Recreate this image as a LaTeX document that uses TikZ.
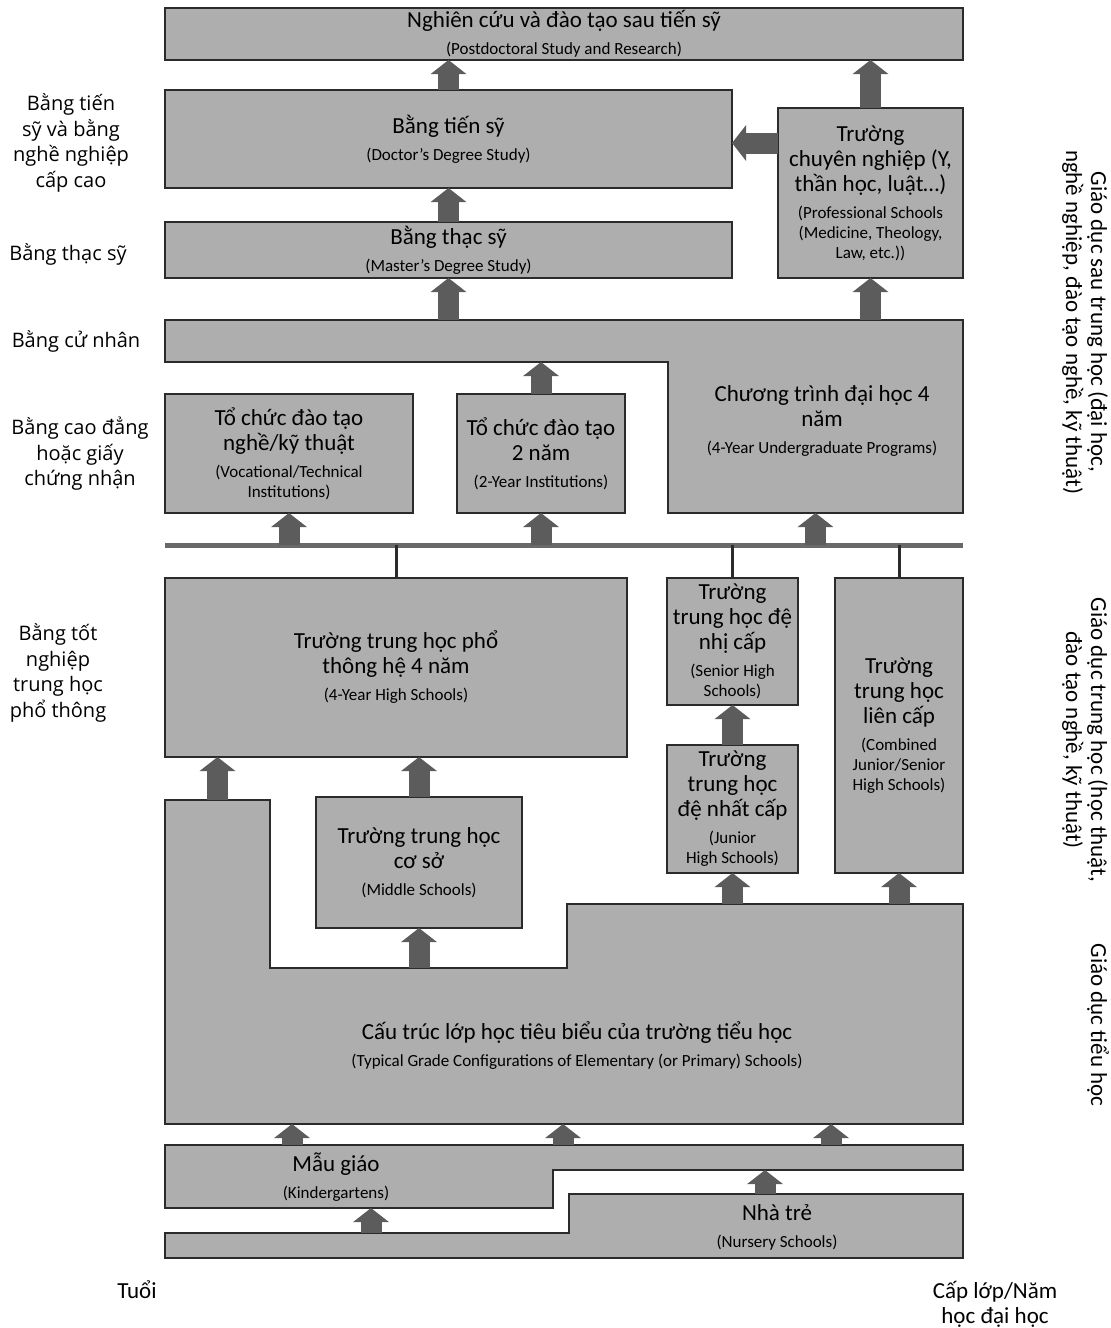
\documentclass[tikz,border=0pt]{standalone}
\usepackage{fontspec}
\setmainfont{Carlito}
\newfontfamily\nhanfont{Open Sans}
\usetikzlibrary{arrows.meta,calc}
\definecolor{nenxam}{RGB}{174,174,174}
\definecolor{vienxam}{RGB}{43,43,43}
\definecolor{muixam}{RGB}{92,92,92}
\definecolor{ranhxam}{RGB}{105,105,105}
\newcommand{\anh}[1]{\par\vspace{7pt}{\fontsize{17}{20}\selectfont #1\par}}
\tikzset{
  khoi/.style={
    draw=vienxam,
    fill=nenxam,
    line width=2.2pt,
    line join=miter
  },
  hop/.style={
    khoi,
    rectangle,
    align=flush center,
    inner sep=2pt,
    outer sep=0pt,
    font=\fontsize{23}{25}\selectfont
  },
  chu/.style={
    align=flush center,
    inner sep=0pt,
    font=\fontsize{23}{25}\selectfont
  },
  nhan/.style={
    align=center,
    inner sep=0pt,
    font=\nhanfont\fontsize{20}{25.5}\selectfont
  },
  ben/.style={
    align=center,
    inner sep=0pt,
    rotate=-90,
    font=\fontsize{23}{25}\selectfont
  },
  muiten/.style={
    draw=muixam,
    line width=21pt,
    -{Triangle[length=14pt,width=35pt]}
  },
  noi/.style={
    draw=vienxam,
    line width=3pt
  }
}

\begin{document}
\begin{tikzpicture}[x=1pt,y=-1pt]
\useasboundingbox[fill=white] (0,0) rectangle (1111,1328);

% sau trung hoc
\node[hop, minimum width=798, minimum height=52, text width=780] (postdoc) at (564,34)
  {Nghiên cứu và đào tạo sau tiến sỹ\anh{(Postdoctoral Study and Research)}};
\node[hop, minimum width=567, minimum height=98, text width=540] (doctor) at (448.5,139)
  {Bằng tiến sỹ\anh{(Doctor's Degree Study)}};
\node[hop, minimum width=185, minimum height=170, text width=181] (prof) at (870.5,193)
  {Trường\\chuyên nghiệp (Y,\\thần học, luật\ldots)\anh{(Professional Schools\\(Medicine, Theology,\\Law, etc.))}};
\node[hop, minimum width=567, minimum height=56, text width=540] (master) at (448.5,250)
  {Bằng thạc sỹ\anh{(Master's Degree Study)}};

\draw[khoi] (165,320) -- (963,320) -- (963,513) -- (668,513) -- (668,362) -- (165,362) -- cycle;
\coordinate (bTop) at (0,320);
\coordinate (bLow) at (0,362);
\coordinate (bBot) at (815.5,513);
\node[chu, text width=290] (bachelor) at (822,421)
  {Chương trình đại học 4\\năm\anh{(4-Year Undergraduate Programs)}};

\node[hop, minimum width=248, minimum height=119, text width=240] (voc) at (289,453.5)
  {Tổ chức đào tạo\\nghề/kỹ thuật\anh{(Vocational/Technical\\Institutions)}};
\node[hop, minimum width=168, minimum height=119, text width=164] (two) at (541,453.5)
  {Tổ chức đào tạo\\2 năm\anh{(2-Year Institutions)}};

\draw[muiten] (doctor.north) -- (doctor.north |- postdoc.south);
\draw[muiten] (prof.north) -- (prof.north |- postdoc.south);
\draw[muiten] ([yshift=-4pt]prof.west |- doctor.east) -- ([yshift=-4pt]doctor.east);
\draw[muiten] (master.north) -- (master.north |- doctor.south);
\draw[muiten] (master.south |- bTop) -- (master.south);
\draw[muiten] (prof.south |- bTop) -- (prof.south);
\draw[muiten] (two.north) -- (two.north |- bLow);

% trung hoc
\coordinate (railL) at (165,545);
\coordinate (railR) at (963,545);
\draw[draw=ranhxam, line width=5pt] (railL) -- (railR);
\draw[muiten] (railL -| voc.south) -- (voc.south);
\draw[muiten] (railL -| two.south) -- (two.south);
\draw[muiten] (railL -| bBot) -- (bBot);

\node[hop, minimum width=462, minimum height=179, text width=440] (hs4) at (396,667.5)
  {Trường trung học phổ\\thông hệ 4 năm\anh{(4-Year High Schools)}};
\node[hop, minimum width=129, minimum height=127, text width=127] (senior) at (732.5,641.5)
  {Trường\\trung học đệ\\nhị cấp\anh{(Senior High\\Schools)}};
\node[hop, minimum width=128, minimum height=295, text width=124] (combined) at (899,725.5)
  {Trường\\trung học\\liên cấp\anh{(Combined\\Junior/Senior\\High Schools)}};
\node[hop, minimum width=129, minimum height=128, text width=127] (junior) at (732.5,809)
  {Trường\\trung học\\đệ nhất cấp\anh{(Junior\\High Schools)}};
\node[hop, minimum width=206, minimum height=131, text width=200] (middle) at (419,862.5)
  {Trường trung học\\cơ sở\anh{(Middle Schools)}};

\draw[noi] (hs4.north) -- (hs4.north |- railL);
\draw[noi] (senior.north) -- (senior.north |- railL);
\draw[noi] (combined.north) -- (combined.north |- railL);
\draw[muiten] (junior.north) -- (senior.south);
\draw[muiten] (middle.north) -- (middle.north |- hs4.south);

% tieu hoc
\draw[khoi] (165,800) -- (270,800) -- (270,968) -- (567,968) -- (567,904) -- (963,904) -- (963,1124) -- (165,1124) -- cycle;
\coordinate (eCol) at (217.5,800);
\coordinate (eNotch) at (0,968);
\coordinate (eStep) at (0,904);
\coordinate (eBot) at (0,1124);
\node[chu, text width=780] (elem) at (577,1046)
  {Cấu trúc lớp học tiêu biểu của trường tiểu học\anh{(Typical Grade Configurations of Elementary (or Primary) Schools)}};

\draw[muiten] (eCol) -- (eCol |- hs4.south);
\draw[muiten] (middle.south |- eNotch) -- (middle.south);
\draw[muiten] (junior.south |- eStep) -- (junior.south);
\draw[muiten] (combined.south |- eStep) -- (combined.south);

% mau giao, nha tre
\draw[khoi] (165,1145) -- (963,1145) -- (963,1170) -- (553,1170) -- (553,1208) -- (165,1208) -- cycle;
\node[chu, text width=360] (kinder) at (336,1177)
  {Mẫu giáo\anh{(Kindergartens)}};
\draw[khoi] (165,1233) -- (569,1233) -- (569,1194) -- (963,1194) -- (963,1258) -- (165,1258) -- cycle;
\node[chu, text width=380] (nursery) at (777,1227)
  {Nhà trẻ\anh{(Nursery Schools)}};

\foreach \x [count=\i] in {292,563,831} {
  \coordinate (mg\i) at (\x,1145);
  \draw[muiten] (mg\i) -- (mg\i |- eBot);
}
\coordinate (nt1) at (371,1233);
\coordinate (nt2) at (765,1194);
\draw[muiten] (nt1) -- (nt1 |- 0,1208);
\draw[muiten] (nt2) -- (nt2 |- 0,1170);

% nhan
\node[nhan] (lbDoc) at (71,143) {Bằng tiến\\sỹ và bằng\\nghề nghiệp\\cấp cao};
\node[nhan] (lbMas) at (68,254) {Bằng thạc sỹ};
\node[nhan] (lbBac) at (76,341) {Bằng cử nhân};
\node[nhan] (lbCol) at (80,454) {Bằng cao đẳng\\hoặc giấy\\chứng nhận};
\node[nhan] (lbHs) at (58,673) {Bằng tốt\\nghiệp\\trung học\\phổ thông};

\node[ben] (gdSau) at (1085,322) {Giáo dục sau trung học (đại học,\\nghề nghiệp, đào tạo nghề, kỹ thuật)};
\node[ben] (gdTrung) at (1085,740) {Giáo dục trung học (học thuật,\\đào tạo nghề, kỹ thuật)};
\node[ben] (gdTieu) at (1098,1025) {Giáo dục tiểu học};

\node[chu, font=\fontsize{23}{25}\selectfont] (tuoi) at (137,1290) {Tuổi};
\node[chu, font=\fontsize{23}{25}\selectfont] (caplop) at (995,1304) {Cấp lớp/Năm\\học đại học};
\end{tikzpicture}
\end{document}
